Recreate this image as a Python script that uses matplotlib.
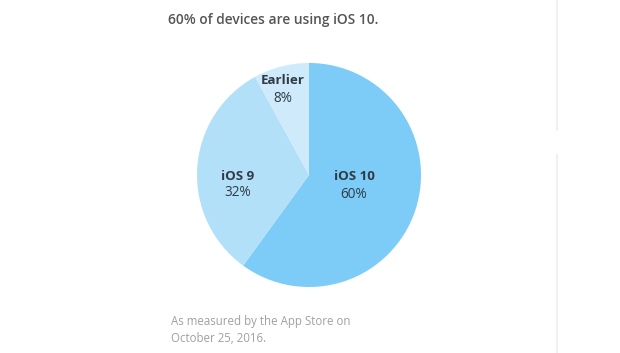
import matplotlib
matplotlib.use("Agg")
import matplotlib.pyplot as plt

# Share of devices by iOS version
categories = ["iOS 10", "iOS 9", "Earlier"]
shares = [60, 32, 8]
colors = ["#7dcbf7", "#b2e0f9", "#cfeafb"]

title = "60% of devices are using iOS 10."
footnote = ["As measured by the App Store on", "October 25, 2016."]

W, H = 620, 353
fig = plt.figure(figsize=(W / 100, H / 100), dpi=100)
ax = fig.add_axes([0, 0, 1, 1])


def y(py):
    return H - py


ax.pie(shares, colors=colors, startangle=90, counterclock=False,
       center=(309, y(175)), radius=112, frame=True,
       wedgeprops=dict(linewidth=0))
ax.set_xlim(0, W)
ax.set_ylim(0, H)
ax.set_aspect("equal")
ax.axis("off")

font = "Open Sans"
label_color = "#2f3b45"
label_pos = {"iOS 10": (354, 177), "iOS 9": (238, 176), "Earlier": (283, 81)}
for cat, val in zip(categories, shares):
    px, py = label_pos[cat]
    ax.text(px, y(py), cat, ha="center", va="center", fontsize=9.6,
            fontweight="bold", color=label_color, family=font)
    ax.text(px, y(py + 17), f"{val}%", ha="center", va="center",
            fontsize=9.8, color=label_color, family=font)

ax.text(168, y(20), title, ha="left", va="center", fontsize=9.9,
        fontweight="semibold", color="#555555", family=font)
ax.text(171, y(322), footnote[0], ha="left", va="center", fontsize=8.3,
        color="#a0a0a0", family=font)
ax.text(171, y(339), footnote[1], ha="left", va="center", fontsize=8.3,
        color="#a0a0a0", family=font)

# faint divider on the right
ax.plot([557, 557], [y(0), y(130)], color="#eeeeee", lw=1.2)
ax.plot([557, 557], [y(155), y(353)], color="#eeeeee", lw=1.2)

fig.savefig("out.png", dpi=100)
